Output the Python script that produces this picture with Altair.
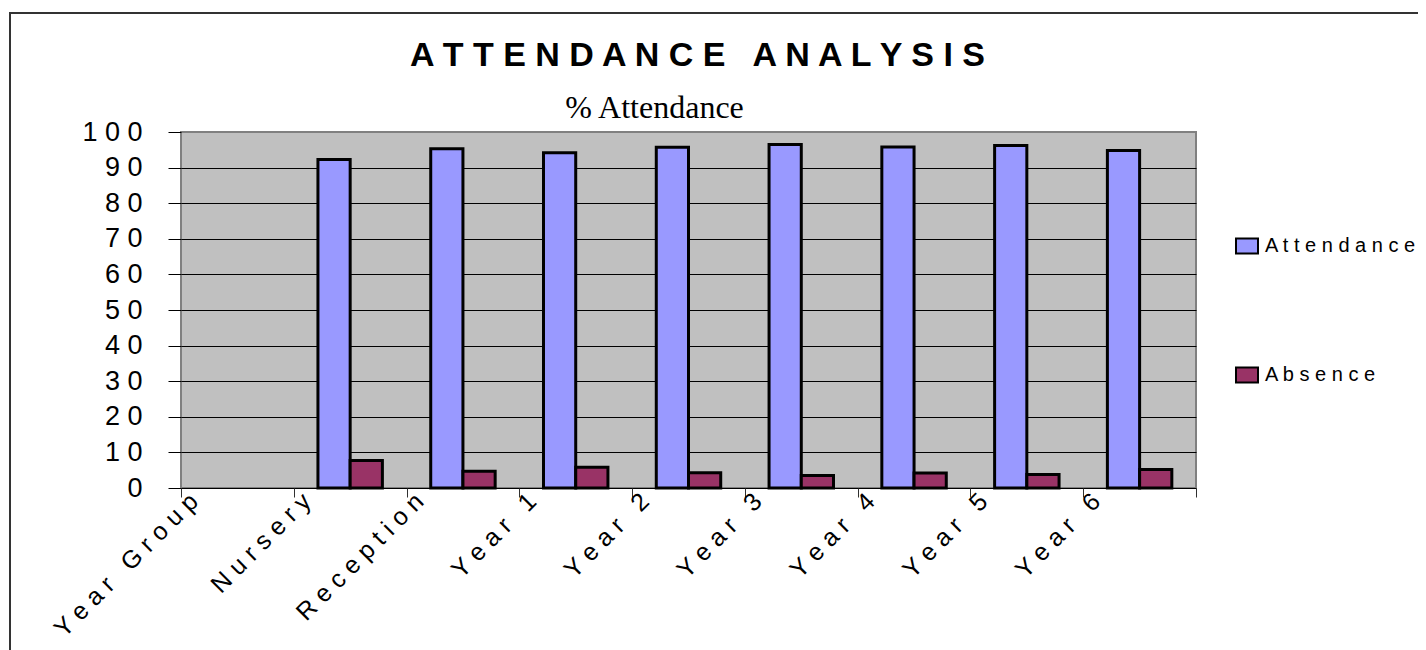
import altair as alt
import pandas as pd

categories = ["Year Group", "Nursery", "Reception", "Year 1", "Year 2",
              "Year 3", "Year 4", "Year 5", "Year 6"]
groups = ["Nursery", "Reception", "Year 1", "Year 2", "Year 3",
          "Year 4", "Year 5", "Year 6"]
attendance = [92.3, 95.3, 94.2, 95.7, 96.5, 95.8, 96.2, 94.8]
absence = [7.7, 4.7, 5.8, 4.3, 3.5, 4.2, 3.8, 5.2]
series = ["Attendance", "Absence"]
colors = ["#9999FF", "#993366"]
y_ticks = list(range(0, 101, 10))

rows = []
for g, a, b in zip(groups, attendance, absence):
    rows.append({"group": g, "series": "Attendance", "value": a})
    rows.append({"group": g, "series": "Absence", "value": b})
df = pd.DataFrame(rows)

NB = "\u00a0"
spaced = "join(split(datum.label, ''), ' ')"
spaced_words = "join(split(replace(datum.label, ' ', '" + NB + "'), ''), ' ')"
title_text = (" ".join("ATTENDANCE") + " " + NB + " " + " ".join("ANALYSIS"))

bars = alt.Chart(df).mark_bar(stroke="black", strokeWidth=3).encode(
    x=alt.X(
        "group:N",
        sort=categories,
        scale=alt.Scale(domain=categories, paddingInner=0, paddingOuter=0),
        axis=alt.Axis(
            title=None,
            labelExpr=spaced_words,
            labelAngle=-45,
            labelAlign="right",
            labelBaseline="middle",
            labelOffset=-44,
            labelPadding=0,
            labelFont="Liberation Sans",
            labelFontSize=25,
            labelColor="black",
            labelLimit=400,
            labelOverlap=False,
            tickBand="extent",
            tickSize=9,
            tickColor="#303030",
            tickWidth=1,
            domain=False,
            grid=False,
        ),
    ),
    xOffset=alt.XOffset(
        "series:N",
        sort=series,
        scale=alt.Scale(domain=series, paddingInner=0, paddingOuter=0.75),
    ),
    y=alt.Y(
        "value:Q",
        scale=alt.Scale(domain=[0, 100], nice=False),
        axis=alt.Axis(
            values=y_ticks,
            format="d",
            labelExpr=spaced,
            labelFont="Liberation Sans",
            labelFontSize=27,
            labelColor="black",
            labelPadding=26,
            tickSize=13,
            tickColor="black",
            tickWidth=1,
            domain=False,
            grid=True,
            gridColor={"condition": {"test": "datum.value >= 100", "value": "#808080"},
                       "value": "black"},
            gridWidth=1,
            title="% Attendance",
            titleAngle=0,
            titleAlign="center",
            titleBaseline="middle",
            titleX=473,
            titleY=-25,
            titleFont="Liberation Serif",
            titleFontSize=32,
            titleFontWeight="normal",
            titleColor="black",
        ),
    ),
    color=alt.Color(
        "series:N",
        sort=series,
        scale=alt.Scale(domain=series, range=colors),
        legend=alt.Legend(
            title=None,
            orient="none",
            legendX=1054,
            legendY=102,
            symbolType="M-1,-0.68H1V0.68H-1Z",
            symbolSize=484,
            symbolStrokeColor="black",
            symbolStrokeWidth=2,
            symbolOpacity=1,
            labelExpr=spaced,
            labelFont="Liberation Sans",
            labelFontSize=20,
            labelColor="black",
            labelOffset=6,
            labelLimit=300,
            rowPadding=105,
        ),
    ),
)

frame = alt.Chart(alt.Data(values=[{}])).mark_rect(
    fill="white", fillOpacity=0, stroke="#333333", strokeWidth=2, clip=False
).encode(
    x=alt.value(-171), x2=alt.value(1400), y=alt.value(-119), y2=alt.value(800)
)

chart = alt.layer(bars, frame).properties(
    width=1015,
    height=356,
    padding={"left": 173, "top": 124, "right": 222, "bottom": 162},
    autosize=alt.AutoSizeParams(type="none"),
    background="white",
    title=alt.TitleParams(
        text=title_text,
        font="Liberation Sans",
        fontSize=34,
        fontWeight="bold",
        color="black",
        anchor="middle",
        baseline="alphabetic",
        dx=9,
        offset=-88,
    ),
).configure_view(
    fill="#C0C0C0", stroke="#808080", strokeWidth=2
)

chart.save("out.html", embed_options={"renderer": "svg", "actions": False})
